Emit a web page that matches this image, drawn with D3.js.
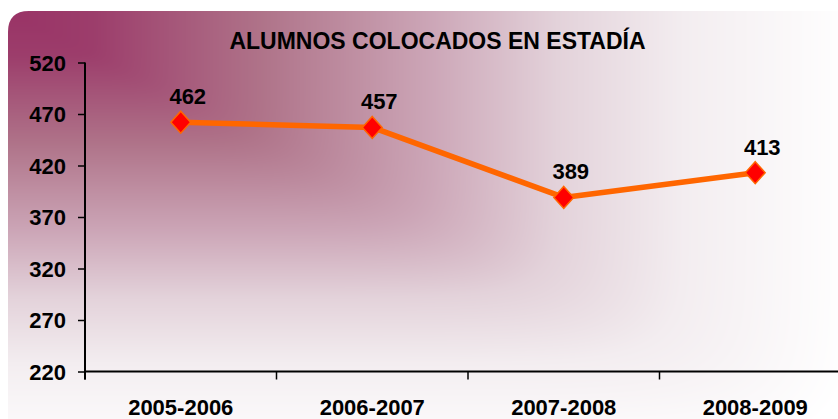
<!DOCTYPE html>
<html>
<head>
<meta charset="utf-8">
<script src="https://cdn.jsdelivr.net/npm/d3@7"></script>
<style>
html,body{margin:0;padding:0;background:#fff;}
svg{display:block;}
text{font-family:"Liberation Sans",Arial,sans-serif;font-weight:bold;fill:#000;}
</style>
</head>
<body>
<svg id="chart" width="838" height="419"></svg>
<script>
const title = "ALUMNOS COLOCADOS EN ESTADÍA";
const categories = ["2005-2006", "2006-2007", "2007-2008", "2008-2009"];
const values = [462, 457, 389, 413];
const yTicks = [220, 270, 320, 370, 420, 470, 520];

const W = 838, H = 419;
const svg = d3.select("#chart");
const defs = svg.append("defs");

// background box with corner gradient (rendered to an image)
const bx = 8, by = 11, bw = 845, bh = 440, br = 21;
const stopPos = [0, 0.1, 0.3, 0.5, 0.65, 0.8, 1];
const stopCol = ["#993366", "#9c3d6b", "#af7389", "#cca6b7", "#e3d2da", "#f3edf0", "#ffffff"];
const colScale = d3.scaleLinear().domain(stopPos).range(stopCol).clamp(true);
const cnv = document.createElement("canvas");
cnv.width = W; cnv.height = H;
const ctx2 = cnv.getContext("2d");
const img = ctx2.createImageData(W, H);
const lut = d3.range(1001).map(i => d3.rgb(colScale(i / 1000)));
const p = 12;
for (let py = 0; py < H; py++) {
  const v = Math.max(0, (py - by) / bh);
  for (let px = 0; px < W; px++) {
    const u = Math.max(0, (px - bx) / bw);
    const t = Math.min(1, Math.pow(Math.pow(u, p) + Math.pow(v, p), 1 / p));
    const c = lut[Math.round(t * 1000)];
    const k = (py * W + px) * 4;
    img.data[k] = c.r; img.data[k + 1] = c.g; img.data[k + 2] = c.b; img.data[k + 3] = 255;
  }
}
ctx2.putImageData(img, 0, 0);
defs.append("clipPath").attr("id", "bgclip")
  .append("path")
  .attr("d", `M${bx},${by + br} Q${bx},${by} ${bx + br},${by} L${bx + bw},${by} L${bx + bw},${by + bh} L${bx},${by + bh} Z`);
svg.append("image").attr("clip-path", "url(#bgclip)")
  .attr("x", 0).attr("y", 0).attr("width", W).attr("height", H)
  .attr("href", cnv.toDataURL());

// scales
const x = d3.scaleBand().domain(categories).range([85, 851]).padding(0);
const y = d3.scaleLinear().domain([220, 520]).range([371.5, 62.5]);
const cx = d => x(d) + x.bandwidth() / 2;

// title
svg.append("text").attr("x", 437.5).attr("y", 49).attr("text-anchor", "middle")
  .style("font-size", "23px").text(title);

// y axis
const yAxis = svg.append("g").attr("transform", "translate(85,0)")
  .call(d3.axisLeft(y).tickValues(yTicks).tickSize(7).tickPadding(12).tickFormat(d3.format("d")));
yAxis.select(".domain").attr("stroke", "#000").attr("stroke-width", 2).attr("d", `M0,${y(520)}V${y(220) + 8}`);
yAxis.selectAll(".tick line").attr("stroke", "#000").attr("stroke-width", 1.5);
yAxis.selectAll(".tick text").style("font-size", "22px").attr("fill", "#000")
  .attr("dy", "0.36em").attr("font-family", null);

// x axis
const xAxis = svg.append("g").attr("transform", `translate(0,${y(220)})`);
xAxis.append("line").attr("x1", x.range()[0]).attr("x2", x.range()[1]).attr("stroke", "#000").attr("stroke-width", 2);
const edges = categories.map(c => x(c)).concat([x.range()[1]]);
xAxis.selectAll(".xt").data(edges).join("line").attr("class", "xt")
  .attr("x1", d => d).attr("x2", d => d).attr("y1", 0).attr("y2", 8)
  .attr("stroke", "#000").attr("stroke-width", 1.5);
svg.selectAll(".xl").data(categories).join("text").attr("class", "xl")
  .attr("x", d => cx(d)).attr("y", 415).attr("text-anchor", "middle")
  .style("font-size", "22px").text(d => d);

// line
const pts = categories.map((c, i) => ({c, v: values[i]}));
svg.append("path").datum(pts)
  .attr("d", d3.line().x(d => cx(d.c)).y(d => y(d.v)))
  .attr("fill", "none").attr("stroke", "#ff6600").attr("stroke-width", 5.5)
  .attr("stroke-linejoin", "round");

// markers (diamond, slightly taller than wide)
const diamond = {
  draw(ctx, size) {
    const h = Math.sqrt(size) / 2, w = h * 0.9;
    ctx.moveTo(0, -h); ctx.lineTo(w, 0); ctx.lineTo(0, h); ctx.lineTo(-w, 0); ctx.closePath();
  }
};
svg.selectAll(".mk").data(pts).join("path").attr("class", "mk")
  .attr("transform", d => `translate(${cx(d.c)},${y(d.v)})`)
  .attr("d", d3.symbol().type(diamond).size(22 * 22))
  .attr("fill", "#ff0000").attr("stroke", "#ff6600").attr("stroke-width", 1.5);

// data labels
svg.selectAll(".dl").data(pts).join("text").attr("class", "dl")
  .attr("x", d => cx(d.c) + 7).attr("y", d => y(d.v) - 18).attr("text-anchor", "middle")
  .style("font-size", "22px").text(d => d.v);
</script>
</body>
</html>
